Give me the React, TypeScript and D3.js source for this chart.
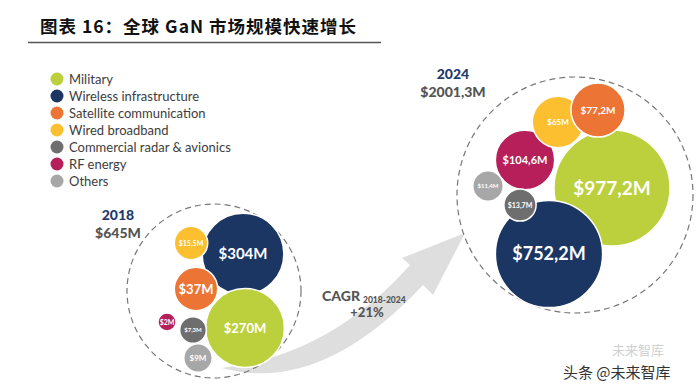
import React, { useEffect, useRef } from "react";
import * as d3 from "d3";

// categories and values (in $M)
const categories = [
  "Military",
  "Wireless infrastructure",
  "Satellite communication",
  "Wired broadband",
  "Commercial radar & avionics",
  "RF energy",
  "Others",
];
const values2018 = [270, 304, 37, 15.5, 7.3, 2, 9];
const values2024 = [977.2, 752.2, 77.2, 65, 13.7, 104.6, 11.4];
const years = ["2018", "2024"];
const totals = [645, 2001.3];
const cagrText = "+21%";

const colors = ["#bccf3c", "#1c3664", "#ec7434", "#fbbf30", "#6e6e6e", "#b71f5a", "#a7a7a7"];

// hand layout of the bubbles inside each dashed circle (offsets from the circle centre)
const layout2018 = {
  cx: 214, cy: 291, r: 87,
  offsets: [[31, 37], [29, -37], [-18, -2], [-23, -48], [-21, 39], [-47, 31], [-16, 67]],
  fonts: [13, 15, 13, 7, 6, 7, 8],
  order: [1, 0, 2, 3, 5, 4, 6],
};
const layout2024 = {
  cx: 575, cy: 195, r: 118,
  offsets: [[37, -7], [-26, 59], [23, -85], [-17, -73], [-55, 10], [-50, -35], [-87, -9]],
  fonts: [19, 18, 10, 8, 7, 11, 6],
  order: [0, 1, 5, 3, 2, 4, 6],
};

const fmt = (v: number) => "$" + String(v).replace(".", ",") + "M";

const App = () => {
  const svgRef = useRef<SVGSVGElement>(null);

  useEffect(() => {
    const w = 700;
    const h = 391;
    const svg = d3.select(svgRef.current).attr("width", w).attr("height", h);
    svg.selectAll("*").remove();
    svg.append("rect").attr("width", w).attr("height", h).attr("fill", "#ffffff");

    // title
    svg
      .append("text")
      .attr("x", 40)
      .attr("y", 33)
      .style("font-family", "'Noto Sans CJK SC', sans-serif")
      .style("font-weight", 700)
      .style("font-size", "17.5px")
      .style("letter-spacing", "1px")
      .style("fill", "#111")
      .text("图表 16：全球 GaN 市场规模快速增长");
    svg
      .append("line")
      .attr("x1", 28)
      .attr("x2", 381)
      .attr("y1", 42.5)
      .attr("y2", 42.5)
      .attr("stroke", "#555")
      .attr("stroke-width", 1.5);

    // legend
    const legend = svg
      .append("g")
      .selectAll("g")
      .data(categories)
      .join("g")
      .attr("transform", (d, i) => `translate(57,${79 + i * 17})`);
    legend
      .append("circle")
      .attr("r", 6.5)
      .attr("fill", (d, i) => colors[i]);
    legend
      .append("text")
      .attr("x", 12)
      .attr("dy", "0.35em")
      .style("font-family", "Lato, sans-serif")
      .style("font-size", "13px")
      .style("fill", "#3d3d3d")
      .text((d) => d);

    // growth arrow (drawn first so the circles sit on top)
    svg
      .append("path")
      .attr(
        "d",
        "M222,368 Q320,395 423,285 L433,295 L465,233 L402,258 L410,265 Q330,355 222,368 Z"
      )
      .attr("fill", "#dedede");

    const rScale = d3
      .scalePow()
      .exponent(0.3)
      .domain([0, d3.max(values2024) as number])
      .range([0, 58]);

    const drawCluster = (values: number[], lay: typeof layout2018) => {
      const g = svg.append("g");
      g.append("circle")
        .attr("cx", lay.cx)
        .attr("cy", lay.cy)
        .attr("r", lay.r)
        .attr("fill", "none")
        .attr("stroke", "#777")
        .attr("stroke-width", 1.2)
        .attr("stroke-dasharray", "6,4");
      const nodes = lay.order.map((i) => ({
        i,
        v: values[i],
        x: lay.cx + lay.offsets[i][0],
        y: lay.cy + lay.offsets[i][1],
      }));
      const b = g.selectAll("g.b").data(nodes).join("g").attr("class", "b");
      b.append("circle")
        .attr("cx", (d) => d.x)
        .attr("cy", (d) => d.y)
        .attr("r", (d) => rScale(d.v))
        .attr("fill", (d) => colors[d.i])
        .attr("stroke", "#fff")
        .attr("stroke-width", 1.5);
      b.append("text")
        .attr("x", (d) => d.x)
        .attr("y", (d) => d.y)
        .attr("dy", "0.36em")
        .attr("text-anchor", "middle")
        .style("font-family", "Lato, sans-serif")
        .style("font-weight", 700)
        .style("font-size", (d) => lay.fonts[d.i] + "px")
        .style("fill", "#fff")
        .text((d) => fmt(d.v));
    };
    drawCluster(values2018, layout2018);
    drawCluster(values2024, layout2024);

    // year / total headers
    const heads = [
      { x: 118, y: 220, year: years[0], total: fmt(totals[0]) },
      { x: 453, y: 79, year: years[1], total: fmt(totals[1]) },
    ];
    heads.forEach((hd) => {
      svg
        .append("text")
        .attr("x", hd.x)
        .attr("y", hd.y)
        .attr("text-anchor", "middle")
        .style("font-family", "Lato, sans-serif")
        .style("font-weight", 900)
        .style("font-size", "14px")
        .style("fill", "#1f3a6b")
        .text(hd.year);
      svg
        .append("text")
        .attr("x", hd.x)
        .attr("y", hd.y + 18)
        .attr("text-anchor", "middle")
        .style("font-family", "Lato, sans-serif")
        .style("font-weight", 900)
        .style("font-size", "14px")
        .style("fill", "#555")
        .text(hd.total);
    });

    // CAGR note
    const cagr = svg
      .append("text")
      .attr("x", 322)
      .attr("y", 301)
      .style("font-family", "Lato, sans-serif")
      .style("font-weight", 900)
      .style("fill", "#555");
    cagr.append("tspan").style("font-size", "14px").text("CAGR");
    cagr
      .append("tspan")
      .attr("dx", 3)
      .attr("dy", 2)
      .style("font-size", "8.5px")
      .text(`${years[0]}-${years[1]}`);
    svg
      .append("text")
      .attr("x", 367)
      .attr("y", 317)
      .attr("text-anchor", "middle")
      .style("font-family", "Lato, sans-serif")
      .style("font-weight", 900)
      .style("font-size", "13px")
      .style("fill", "#555")
      .text(cagrText);

    // watermark
    svg
      .append("text")
      .attr("x", 612)
      .attr("y", 355)
      .style("font-family", "'Noto Sans CJK SC', sans-serif")
      .style("font-size", "13px")
      .style("fill", "#d0d0d0")
      .text("未来智库");
    svg
      .append("text")
      .attr("x", 563)
      .attr("y", 378)
      .style("font-family", "'Noto Sans CJK SC', sans-serif")
      .style("font-size", "15px")
      .style("fill", "#333")
      .text("头条 @未来智库");
  }, []);

  return (
    <svg
      ref={svgRef}
      style={{ position: "absolute", left: 0, top: 0, display: "block" }}
    ></svg>
  );
};

export default App;
